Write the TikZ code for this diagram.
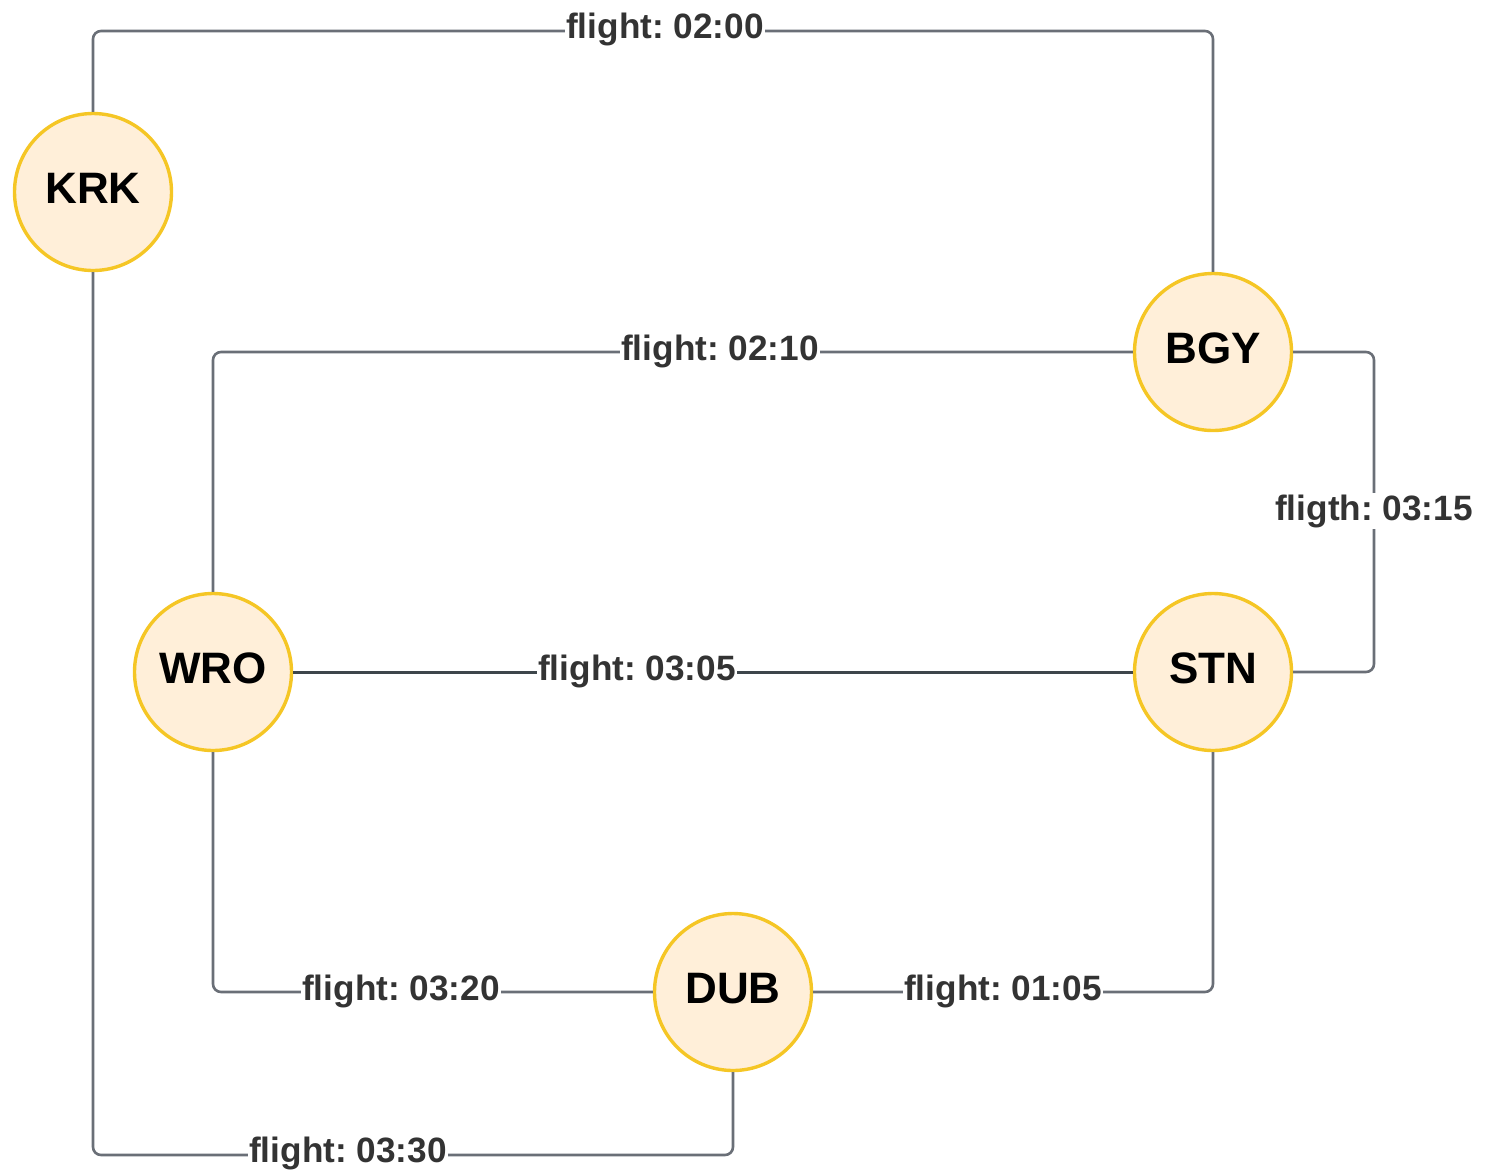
\documentclass[tikz,border=0pt]{standalone}
\usepackage{fontspec}
\setmainfont{Liberation Sans}
\frenchspacing
\begin{document}
\begin{tikzpicture}[x=0.5pt,y=-0.5pt,
  airport/.style={circle,draw=airportedge,fill=airportfill,line width=1.7pt,
    minimum size=78.5pt,inner sep=0pt,text height=15.8pt,text depth=4.5pt,
    font=\fontsize{22}{24}\selectfont\bfseries},
  route/.style={draw=routegray,line width=1.3pt,rounded corners=4pt},
  mainroute/.style={draw=routedark,line width=1.5pt},
  tag/.style={fill=white,inner sep=0.6pt,text=tagtext,font=\fontsize{17.6}{20}\selectfont\bfseries}]
\definecolor{airportedge}{HTML}{F5C625}
\definecolor{airportfill}{HTML}{FFEFD9}
\definecolor{routegray}{HTML}{6A6F77}
\definecolor{routedark}{HTML}{3E464B}
\definecolor{tagtext}{HTML}{333333}
\useasboundingbox (0,0) rectangle (1485,1174);

% airports
\node[airport] (krk) at (93,192) {KRK};
\node[airport] (bgy) at (1213,352) {BGY};
\node[airport] (wro) at (213,672) {WRO};
\node[airport] (stn) at (1213,672) {STN};
\node[airport] (dub) at (733,992) {DUB};

% bend points
\coordinate (ktop) at (93,31);
\coordinate (kbot) at (93,1155);
\coordinate (wtop) at (213,352);
\coordinate (wbot) at (213,992);
\coordinate (bright) at (1374,352);
\coordinate (sbot) at (1213,992);

% routes
\draw[route] (krk.north) -- (ktop) -| (bgy.north);
\draw[route] (krk.south) -- (kbot) -| (dub.south);
\draw[route] (bgy.west) -- (wtop) -- (wro.north);
\draw[route] (bgy.east) -- (bright) |- (stn.east);
\draw[mainroute] (wro.east) -- (stn.west);
\draw[route] (wro.south) -- (wbot) -- (dub.west);
\draw[route] (dub.east) -- (sbot) -- (stn.south);

% flight times
\node[tag] (t1) at (665,29) {flight: 02:00};
\node[tag] (t2) at (720,351) {flight: 02:10};
\node[tag] (t3) at (1374,511) {fligth: 03:15};
\node[tag] (t4) at (637,671) {flight: 03:05};
\node[tag] (t5) at (401,991) {flight: 03:20};
\node[tag] (t6) at (1003,991) {flight: 01:05};
\node[tag] (t7) at (348,1153) {flight: 03:30};
\end{tikzpicture}
\end{document}
